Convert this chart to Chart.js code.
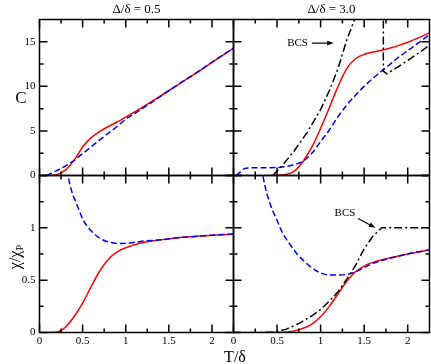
<!DOCTYPE html>
<html>
<head>
<meta charset="utf-8">
<script src="https://cdn.jsdelivr.net/npm/chart.js@4.4.1/dist/chart.umd.min.js"></script>
<style>
  html, body { margin: 0; padding: 0; background: #fff; }
  #wrap { position: relative; width: 431px; height: 364px; overflow: hidden;
          font-family: "Liberation Serif", "Times New Roman", serif; color: #000; }
  #wrap canvas { position: absolute; left: 0; top: 0; }
  .lbl { position: absolute; white-space: nowrap; line-height: 1; transform: translate(-50%, -50%); }
  .rot { transform: translate(-50%, -50%) rotate(-90deg); }
  sub { font-size: 0.65em; vertical-align: -0.3em; line-height: 0; }
</style>
</head>
<body>
<div id="wrap">
  <canvas id="cTL" width="431" height="364"></canvas>
  <canvas id="cTR" width="431" height="364"></canvas>
  <canvas id="cBL" width="431" height="364"></canvas>
  <canvas id="cBR" width="431" height="364"></canvas>
  <div class="lbl" style="left:136.5px; top:8px; font-size:13px;">Δ/δ = 0.5</div>
  <div class="lbl" style="left:331.5px; top:8px; font-size:13px;">Δ/δ = 3.0</div>
  <div class="lbl" style="left:21px; top:97px; font-size:17px;">C</div>
  <div class="lbl rot" style="left:15px; top:257px; font-size:16px;">χ/χ<sub>P</sub></div>
  <div class="lbl" style="left:235px; top:357px; font-size:16px;">T/δ</div>
</div>
<script>
// ---- axes ----
const tMin = 0, tMax = 2.25;
const tLabels = [0, 0.5, 1, 1.5, 2];
const tMinor = [0.25, 0.75, 1.25, 1.75];
const cMax = 17.5;
const cLabels = [0, 5, 10, 15];
const cMinor = [2.5, 7.5, 12.5];
const chiMax = 1.5;
const chiLabels = [0, 0.5, 1];
const chiMajor = [0, 0.5, 1, 1.5];
const chiMinor = [0.25, 0.75, 1.25];

// ---- Δ/δ = 0.5, C ----
const tC05Red = [0.12, 0.2, 0.3, 0.4, 0.5, 0.6, 0.7, 0.8, 0.9, 1.0, 1.2, 1.4, 1.6, 1.8, 2.0, 2.25];
const cC05Red = [0, 0.1, 0.6, 1.7, 3.2, 4.25, 4.95, 5.5, 6.0, 6.55, 7.7, 8.9, 10.15, 11.4, 12.7, 14.3];
const tC05Blue = [0.08, 0.2, 0.35, 0.5, 0.7, 0.9, 1.0, 1.2, 1.4, 1.6, 1.8, 2.0, 2.25];
const cC05Blue = [0, 0.55, 1.35, 2.45, 4.0, 5.5, 6.3, 7.55, 8.85, 10.15, 11.4, 12.7, 14.3];

// ---- Δ/δ = 0.5, χ/χP ----
const tX05Red = [0, 0.2, 0.25, 0.3, 0.4, 0.5, 0.6, 0.7, 0.8, 0.9, 1.0, 1.2, 1.4, 1.6, 1.8, 2.0, 2.25];
const xX05Red = [0, 0.005, 0.02, 0.05, 0.15, 0.28, 0.44, 0.59, 0.70, 0.77, 0.81, 0.86, 0.885, 0.905, 0.918, 0.93, 0.94];
const tX05Blue = [0.28, 0.3, 0.334, 0.37, 0.43, 0.51, 0.59, 0.7, 0.78, 0.93, 1.05, 1.17, 1.3, 1.4, 1.6, 1.8, 2.0, 2.25];
const xX05Blue = [1.9, 1.72, 1.49, 1.36, 1.23, 1.07, 0.98, 0.90, 0.87, 0.85, 0.855, 0.87, 0.88, 0.885, 0.905, 0.918, 0.93, 0.94];

// ---- Δ/δ = 3.0, C ----
const tC30Red = [0.4, 0.5, 0.6, 0.7, 0.8, 0.9, 1.0, 1.1, 1.2, 1.3, 1.4, 1.5, 1.6, 1.7, 1.8, 1.9, 2.0, 2.1, 2.25];
const cC30Red = [0, 0.02, 0.12, 0.5, 1.6, 3.2, 5.3, 7.6, 10.0, 12.0, 13.1, 13.6, 13.85, 14.05, 14.3, 14.6, 14.95, 15.35, 16.0];
const tC30Blue = [0.03, 0.08, 0.12, 0.18, 0.3, 0.5, 0.6, 0.7, 0.78, 0.9, 1.0, 1.1, 1.2, 1.3, 1.4, 1.5, 1.6, 1.7, 1.8, 1.9, 2.0, 2.1, 2.25];
const cC30Blue = [0, 0.4, 0.75, 0.85, 0.87, 0.9, 1.0, 1.25, 1.5, 2.5, 3.8, 5.1, 6.6, 7.9, 9.0, 10.0, 10.9, 11.7, 12.5, 13.3, 14.0, 14.7, 15.8];
const tC30Bcs = [0.45, 0.55, 0.7, 0.85, 1.0, 1.1, 1.2, 1.3, 1.72, 1.72, 1.76, 2.0, 2.25];
const cC30Bcs = [0, 1.0, 2.8, 4.9, 7.4, 9.5, 12.0, 15.2, 26, 11.7, 11.4, 12.9, 14.6];

// ---- Δ/δ = 3.0, χ/χP ----
const tX30Red = [0.3, 0.5, 0.6, 0.7, 0.8, 0.9, 1.0, 1.1, 1.2, 1.3, 1.4, 1.5, 1.6, 1.8, 2.0, 2.25];
const xX30Red = [0, 0.001, 0.005, 0.015, 0.04, 0.08, 0.15, 0.25, 0.37, 0.49, 0.58, 0.635, 0.67, 0.715, 0.75, 0.79];
const tX30Blue = [0.3, 0.34, 0.42, 0.5, 0.57, 0.65, 0.73, 0.8, 0.88, 0.95, 1.03, 1.1, 1.18, 1.3, 1.4, 1.5, 1.6, 1.8, 2.0, 2.25];
const xX30Blue = [1.75, 1.49, 1.23, 1.07, 0.94, 0.84, 0.75, 0.69, 0.63, 0.59, 0.56, 0.55, 0.55, 0.555, 0.58, 0.62, 0.66, 0.71, 0.75, 0.79];
const tX30Bcs = [0, 0.3, 0.45, 0.6, 0.76, 0.9, 1.0, 1.1, 1.2, 1.3, 1.4, 1.5, 1.6, 1.7, 2.25];
const xX30Bcs = [0, 0, 0.003, 0.03, 0.09, 0.16, 0.22, 0.30, 0.39, 0.51, 0.64, 0.80, 0.92, 1.0, 1.0];

// ---- layout (px) ----
const W = 431, H = 364;
const xLeft = 39.5, xMid = 233.5, xRight = 429.5;
const yTop = 19.5, yMid = 175.5, yBot = 332.5;

const FONT = "Liberation Serif";
const pts = (xs, ys) => xs.map((x, i) => ({ x, y: ys[i] }));

const red = (xs, ys) => ({ data: pts(xs, ys), borderColor: "#ff0000", borderWidth: 1.5,
  pointRadius: 0, cubicInterpolationMode: "monotone", fill: false });
const blue = (xs, ys) => ({ data: pts(xs, ys), borderColor: "#0000ff", borderWidth: 1.5,
  borderDash: [6, 3], pointRadius: 0, cubicInterpolationMode: "monotone", fill: false });
const bcs = (xs, ys) => ({ data: pts(xs, ys), borderColor: "#000", borderWidth: 1.5,
  borderDash: [8, 3, 2, 3], pointRadius: 0, tension: 0, fill: false });

// frame with inward ticks
const frame = {
  id: "frame",
  afterDatasetsDraw(chart, args, o) {
    const { ctx, chartArea: a, scales: { x, y } } = chart;
    ctx.save();
    ctx.strokeStyle = "#000";
    ctx.lineWidth = 1.5;
    ctx.beginPath();
    const xt = (vals, len) => vals.forEach(v => {
      const p = x.getPixelForValue(v);
      ctx.moveTo(p, a.bottom); ctx.lineTo(p, a.bottom - len);
      ctx.moveTo(p, a.top); ctx.lineTo(p, a.top + len);
    });
    const yt = (vals, len) => vals.forEach(v => {
      const p = y.getPixelForValue(v);
      ctx.moveTo(a.left, p); ctx.lineTo(a.left + len, p);
      ctx.moveTo(a.right, p); ctx.lineTo(a.right - len, p);
    });
    xt(tLabels, 8); xt(tMinor, 4);
    yt(o.yMajor, 8); yt(o.yMinor, 4);
    ctx.stroke();
    ctx.strokeRect(a.left, a.top, a.right - a.left, a.bottom - a.top);
    ctx.restore();
  }
};

// "BCS" note with arrow
const note = {
  id: "note",
  afterDatasetsDraw(chart, args, o) {
    if (!o.text) return;
    const { ctx, scales: { x, y } } = chart;
    ctx.save();
    ctx.fillStyle = "#000";
    ctx.strokeStyle = "#000";
    ctx.font = "11px '" + FONT + "'";
    ctx.textAlign = "center";
    ctx.textBaseline = "middle";
    ctx.fillText(o.text, x.getPixelForValue(o.at[0]), y.getPixelForValue(o.at[1]));
    const x0 = x.getPixelForValue(o.from[0]), y0 = y.getPixelForValue(o.from[1]);
    const x1 = x.getPixelForValue(o.to[0]), y1 = y.getPixelForValue(o.to[1]);
    const ang = Math.atan2(y1 - y0, x1 - x0);
    ctx.lineWidth = 1.2;
    ctx.beginPath(); ctx.moveTo(x0, y0);
    ctx.lineTo(x1 - 5 * Math.cos(ang), y1 - 5 * Math.sin(ang)); ctx.stroke();
    ctx.beginPath();
    ctx.moveTo(x1, y1);
    ctx.lineTo(x1 - 7 * Math.cos(ang - 0.35), y1 - 7 * Math.sin(ang - 0.35));
    ctx.lineTo(x1 - 7 * Math.cos(ang + 0.35), y1 - 7 * Math.sin(ang + 0.35));
    ctx.closePath(); ctx.fill();
    ctx.restore();
  }
};

function panel(id, p) {
  const tickFont = { family: FONT, size: 11 };
  new Chart(document.getElementById(id), {
    type: "line",
    data: { datasets: p.datasets },
    options: {
      responsive: false,
      animation: false,
      events: [],
      layout: { padding: p.pad },
      plugins: { legend: { display: false }, tooltip: { enabled: false },
                 frame: { yMajor: p.yMajor, yMinor: p.yMinor }, note: p.note || {} },
      scales: {
        x: {
          type: "linear", min: tMin, max: tMax, display: p.showX,
          grid: { display: false, drawTicks: false }, border: { display: false },
          ticks: { font: tickFont, color: "#000", padding: 2, maxRotation: 0, autoSkip: false,
                   callback: v => String(v) },
          afterBuildTicks: s => { s.ticks = tLabels.map(v => ({ value: v })); },
          afterFit: s => { s.height = p.showX ? H - yBot : 0; }
        },
        y: {
          type: "linear", min: 0, max: p.yMax, display: p.showY,
          grid: { display: false, drawTicks: false }, border: { display: false },
          ticks: { font: tickFont, color: "#000", padding: 4, autoSkip: false,
                   callback: v => String(v) },
          afterBuildTicks: s => { s.ticks = p.yLabels.map(v => ({ value: v })); },
          afterFit: s => { s.width = p.showY ? xLeft : 0; }
        }
      }
    },
    plugins: [frame, note]
  });
}

panel("cTL", {
  pad: { left: 0, top: yTop, right: W - xMid, bottom: H - yMid },
  showX: false, showY: true, yMax: cMax, yLabels: cLabels, yMajor: cLabels, yMinor: cMinor,
  datasets: [blue(tC05Blue, cC05Blue), red(tC05Red, cC05Red)]
});
panel("cTR", {
  pad: { left: xMid, top: yTop, right: W - xRight, bottom: H - yMid },
  showX: false, showY: false, yMax: cMax, yLabels: cLabels, yMajor: cLabels, yMinor: cMinor,
  datasets: [bcs(tC30Bcs, cC30Bcs), blue(tC30Blue, cC30Blue), red(tC30Red, cC30Red)],
  note: { text: "BCS", at: [0.735, 14.85], from: [0.9, 14.85], to: [1.15, 14.85] }
});
panel("cBL", {
  pad: { left: 0, top: yMid, right: W - xMid, bottom: 0 },
  showX: true, showY: true, yMax: chiMax, yLabels: chiLabels, yMajor: chiMajor, yMinor: chiMinor,
  datasets: [blue(tX05Blue, xX05Blue), red(tX05Red, xX05Red)]
});
panel("cBR", {
  pad: { left: xMid, top: yMid, right: W - xRight, bottom: 0 },
  showX: true, showY: false, yMax: chiMax, yLabels: chiLabels, yMajor: chiMajor, yMinor: chiMinor,
  datasets: [bcs(tX30Bcs, xX30Bcs), blue(tX30Blue, xX30Blue), red(tX30Red, xX30Red)],
  note: { text: "BCS", at: [1.28, 1.145], from: [1.43, 1.09], to: [1.63, 1.0] }
});
</script>
</body>
</html>
